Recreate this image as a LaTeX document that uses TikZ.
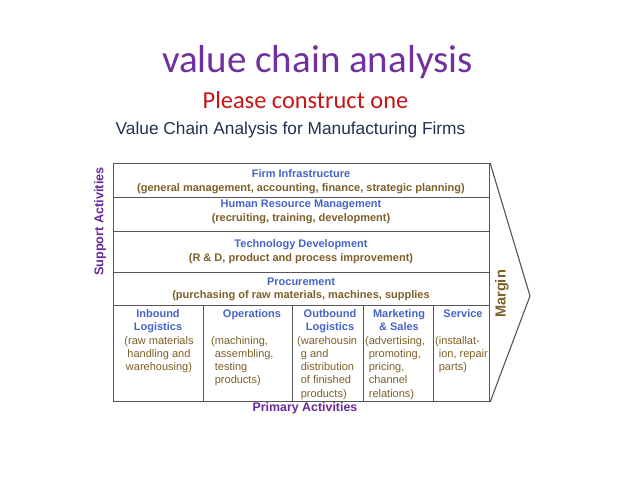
\documentclass[tikz,border=0pt]{standalone}
\usepackage{fontspec}
\setmainfont{Liberation Sans}
\newfontfamily\titlefont{Carlito}
\definecolor{ttlpurple}{RGB}{112,48,160}
\definecolor{ttlred}{RGB}{200,20,20}
\definecolor{navy}{RGB}{35,50,80}
\definecolor{hdrblue}{RGB}{70,100,200}
\definecolor{descbrown}{RGB}{125,95,40}
\definecolor{lblpurple}{RGB}{105,40,155}
\definecolor{linegray}{RGB}{85,85,85}
\begin{document}
\begin{tikzpicture}[x=1pt,y=-1pt,
  cell/.style={draw=linegray,line width=1.1pt,inner sep=0pt,anchor=north west},
  hdr/.style={font=\fontsize{11}{13.3}\selectfont\bfseries,text=hdrblue,inner sep=0pt,anchor=base},
  desc/.style={font=\fontsize{11}{13.3}\selectfont\bfseries,text=descbrown,inner sep=0pt,anchor=base},
  phdr/.style={font=\fontsize{11}{13.3}\selectfont\bfseries,text=hdrblue,inner sep=0pt,anchor=north,align=center},
  pdesc/.style={font=\fontsize{11}{13.3}\selectfont,text=descbrown,inner sep=0pt,anchor=north west,align=left},
  side/.style={font=\fontsize{12.7}{14}\selectfont\bfseries,text=lblpurple,inner sep=0pt}
]
\useasboundingbox (0,0) rectangle (638,479);
\fill[white] (0,0) rectangle (638,479);

% titles
\node[font=\titlefont\fontsize{39}{44}\selectfont,text=ttlpurple,anchor=base,inner sep=0pt] (title) at (317.5,72) {value chain analysis};
\node[font=\titlefont\fontsize{24.4}{28}\selectfont,text=ttlred,anchor=base,inner sep=0pt] (sub) at (305.5,108) {Please construct one};
\node[font=\fontsize{17.3}{20}\selectfont,text=navy,anchor=base,inner sep=0pt] (head) at (290.5,134) {Value Chain Analysis for Manufacturing Firms};

% support rows
\node[cell,minimum width=376pt,minimum height=34pt] (fi) at (113,163) {};
\node[cell,minimum width=376pt,minimum height=34pt] (hrm) at (113,197) {};
\node[cell,minimum width=376pt,minimum height=41pt] (tech) at (113,231) {};
\node[cell,minimum width=376pt,minimum height=33pt] (proc) at (113,272) {};

% primary columns
\node[cell,minimum width=90pt,minimum height=96pt] (inb) at (113,305) {};
\node[cell,minimum width=89pt,minimum height=96pt] (ops) at (203,305) {};
\node[cell,minimum width=71pt,minimum height=96pt] (outb) at (292,305) {};
\node[cell,minimum width=70pt,minimum height=96pt] (mkt) at (363,305) {};
\node[cell,minimum width=56pt,minimum height=96pt] (svc) at (433,305) {};

% margin chevron
\coordinate (tip) at (530,296);
\draw[linegray,line width=1.1pt,line join=miter] (fi.north east) -- (tip) -- (svc.south east);

% support texts
\node[hdr] (fih) at (301,177) {Firm Infrastructure};
\node[desc] (fid) at (301,191) {(general management, accounting, finance, strategic planning)};
\node[hdr] (hrmh) at (301,207) {Human Resource Management};
\node[desc] (hrmd) at (301,221) {(recruiting, training, development)};
\node[hdr] (techh) at (301,247) {Technology Development};
\node[desc] (techd) at (301,261) {(R \& D, product and process improvement)};
\node[hdr] (proch) at (301,285) {Procurement};
\node[desc] (procd) at (301,298) {(purchasing of raw materials, machines, supplies};

% primary texts
\node[phdr] (inbh) at (158,307.5) {\strut Inbound\\Logistics};
\node[pdesc,align=center,anchor=north] (inbd) at (159,334.5) {\strut(raw materials\\handling and\\warehousing)};
\node[phdr] (opsh) at (252,307.5) {\strut Operations};
\node[pdesc] (opsd) at (211,334.5) {\strut(machining,\\\phantom{(}assembling,\\\phantom{(}testing\\\phantom{(}products)};
\node[phdr] (outbh) at (330,307.5) {\strut Outbound\\Logistics};
\node[pdesc] (outbd) at (297,334.5) {\strut(warehousin\\\phantom{(}g and\\\phantom{(}distribution\\\phantom{(}of finished\\\phantom{(}products)};
\node[phdr] (mkth) at (399,307.5) {\strut Marketing\\\& Sales};
\node[pdesc] (mktd) at (365,334.5) {\strut(advertising,\\\phantom{(}promoting,\\\phantom{(}pricing,\\\phantom{(}channel\\\phantom{(}relations)};
\node[phdr] (svch) at (463,307.5) {\strut Service};
\node[pdesc] (svcd) at (435,334.5) {\strut(installat-\\\phantom{(}ion, repair\\\phantom{(}parts)};

% side labels
\node[side,rotate=90] (supp) at (100,221.5) {Support Activities};
\node[font=\fontsize{14.6}{16}\selectfont\bfseries,text=descbrown,rotate=90,inner sep=0pt] (margin) at (502,294) {Margin};
\node[side,font=\fontsize{12.4}{14}\selectfont\bfseries] (prim) at (305,408) {Primary Activities};
\end{tikzpicture}
\end{document}
